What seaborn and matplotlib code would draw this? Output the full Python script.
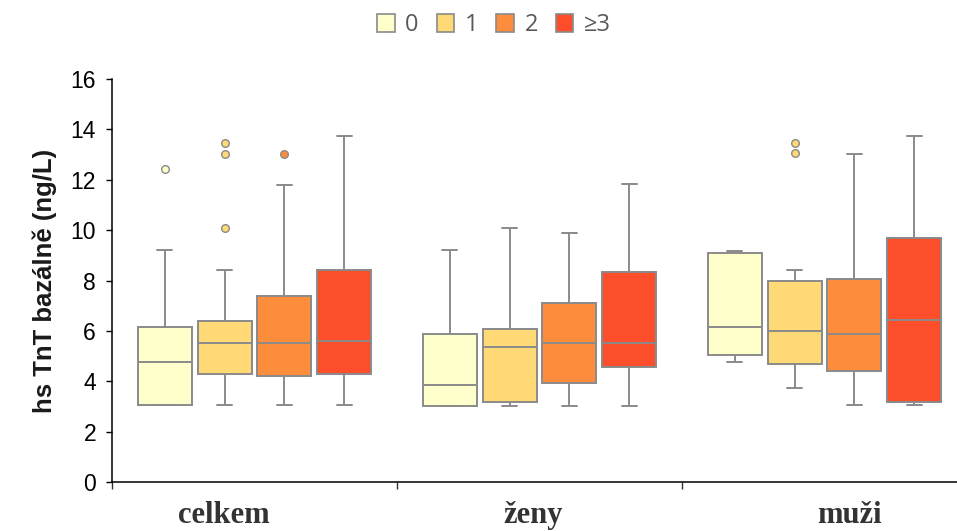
import numpy as np
import pandas as pd
import matplotlib
matplotlib.use("Agg")
import matplotlib.pyplot as plt
from matplotlib.patches import Patch
import seaborn as sns

# ---- data (box statistics) ----
groups = ["celkem", "ženy", "muži"]
levels = ["0", "1", "2", "≥3"]
colors = ["#FFFFCC", "#FED976", "#FD8D3C", "#FC4E2A"]

whisker_low = {
    "celkem": [3.04, 3.04, 3.04, 3.04],
    "ženy":   [3.03, 3.03, 3.03, 3.03],
    "muži":   [4.76, 3.73, 3.04, 3.04],
}
q1 = {
    "celkem": [3.04, 4.27, 4.21, 4.27],
    "ženy":   [3.03, 3.17, 3.94, 4.55],
    "muži":   [5.03, 4.68, 4.42, 3.16],
}
median = {
    "celkem": [4.75, 5.52, 5.52, 5.60],
    "ženy":   [3.85, 5.37, 5.52, 5.52],
    "muži":   [6.14, 6.00, 5.86, 6.42],
}
q3 = {
    "celkem": [6.14, 6.40, 7.37, 8.40],
    "ženy":   [5.86, 6.06, 7.09, 8.33],
    "muži":   [9.10, 7.99, 8.06, 9.67],
}
whisker_high = {
    "celkem": [9.23, 8.40, 11.79, 13.73],
    "ženy":   [9.23, 10.07, 9.87, 11.85],
    "muži":   [9.17, 8.40, 13.04, 13.73],
}
outliers = {
    "celkem": [[12.41], [13.44, 13.03, 10.07], [13.03], []],
    "ženy":   [[], [], [], []],
    "muži":   [[], [13.44, 13.05], [], []],
}


def sample_from_stats(lo, a, m, b, hi, outs):
    """17-point sample whose quartiles / whiskers / outliers equal the stats."""
    uppers = sorted([hi] + list(outs))
    uppers = uppers + [hi] * (4 - len(uppers))
    uppers = sorted(uppers)
    return [lo] + [a] * 4 + [m] * 4 + [b] * 4 + uppers


rows = []
for g in groups:
    for i, lev in enumerate(levels):
        vals = sample_from_stats(whisker_low[g][i], q1[g][i], median[g][i],
                                 q3[g][i], whisker_high[g][i], outliers[g][i])
        rows += [{"group": g, "level": lev, "value": v} for v in vals]
df = pd.DataFrame(rows)

# ---- style ----
sns.set_style("white")
plt.rcParams["font.family"] = ["Liberation Sans", "DejaVu Sans"]

line_gray = "#8a8a8a"

fig = plt.figure(figsize=(9.57, 5.31), dpi=100)
ax = fig.add_axes([112 / 957, 1 - 482 / 531, 855 / 957, 403 / 531])

sns.boxplot(
    data=df, x="group", y="value", hue="level",
    order=groups, hue_order=levels, palette=colors, saturation=1,
    width=0.84, gap=0.1, linecolor=line_gray, linewidth=1.4,
    fliersize=5.5, flierprops={"marker": "o", "markeredgewidth": 1.0},
    legend=False, ax=ax,
)

# fliers filled with box colour, narrow caps
for cont, col in zip(ax.containers, colors):
    for fl in cont.fliers:
        fl.set_markerfacecolor(col)
        fl.set_markeredgecolor(line_gray)
    for cap in cont.caps:
        xd = np.asarray(cap.get_xdata(), dtype=float)
        c = xd.mean()
        cap.set_xdata([c - 0.027, c + 0.027])

ax.set_xlim(-0.5, 2.5)
ax.set_ylim(0, 16)
ax.set_yticks(np.arange(0, 17, 2))
ax.tick_params(axis="y", direction="out", length=4.5, width=1.0, pad=7,
               labelsize=16.5, colors="black", left=True)

# x: boundary ticks as minor ticks, labels as major ticks without marks
ax.set_xticks([-0.5, 0.5, 1.5, 2.5], minor=True)
ax.set_xticks([-0.107, 0.977, 2.086])
ax.set_xticklabels(groups, fontfamily=["Liberation Serif", "DejaVu Serif"],
                   fontweight="bold", fontsize=22, color="#333333")
ax.tick_params(axis="x", which="major", length=0, pad=14)
ax.tick_params(axis="x", which="minor", direction="out", length=5,
               width=1.0, color="#333333", bottom=True)

ax.set_xlabel("")
ax.set_ylabel("hs TnT bazálně (ng/L)", fontsize=18.5, fontweight="bold",
              color="#1a1a1a", labelpad=10)

for s in ["top", "right"]:
    ax.spines[s].set_visible(False)
for s in ["left", "bottom"]:
    ax.spines[s].set_color("black")
    ax.spines[s].set_linewidth(1.1)

handles = [Patch(facecolor=c, edgecolor=line_gray, linewidth=1.2) for c in colors]
fig.legend(handles, levels, loc="center", bbox_to_anchor=(494 / 957, 1 - 25 / 531),
           ncol=4, frameon=False, fontsize=17, handlelength=0.75, handleheight=0.8,
           handletextpad=0.45, columnspacing=0.75, labelcolor="#595959",
           prop={"family": ["Open Sans", "DejaVu Sans"], "size": 17})

fig.savefig("out.png", dpi=100)
